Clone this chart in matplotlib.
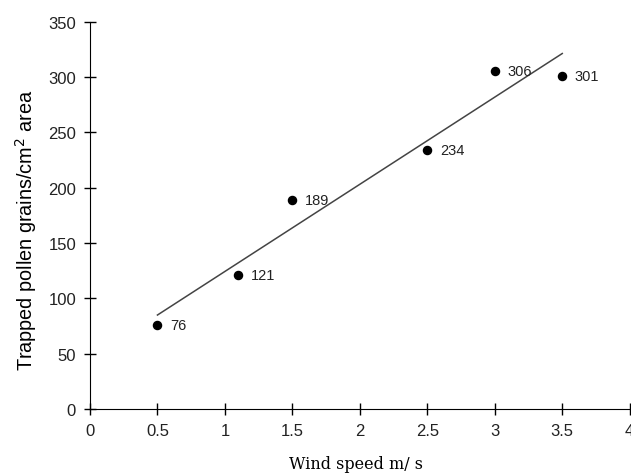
import numpy as np
import matplotlib
matplotlib.use("Agg")
import matplotlib.pyplot as plt

wind_speed = [0.5, 1.1, 1.5, 2.5, 3.0, 3.5]
pollen = [76, 121, 189, 234, 306, 301]
x_ticks = [0, 0.5, 1, 1.5, 2, 2.5, 3, 3.5, 4]
x_tick_labels = ["0", "0.5", "1", "1.5", "2", "2.5", "3", "3.5", "4"]
y_ticks = [0, 50, 100, 150, 200, 250, 300, 350]

fig = plt.figure(figsize=(6.31, 4.77), dpi=100)
ax = fig.add_axes([0.1426, 0.1405, 0.8554, 0.8115])

slope, intercept = np.polyfit(wind_speed, pollen, 1)
xs = np.array([min(wind_speed), max(wind_speed)])
ax.plot(xs, slope * xs + intercept, color="#444444", lw=1.1)

ax.scatter(wind_speed, pollen, s=34, color="black", zorder=3)
for x, y in zip(wind_speed, pollen):
    ax.annotate(str(y), (x, y), xytext=(9, 0), textcoords="offset points",
                va="center", ha="left", fontsize=10.5, family="Liberation Sans",
                color="#222222")

ax.set_xlim(0, 4)
ax.set_ylim(0, 350)
ax.set_xticks(x_ticks)
ax.set_xticklabels(x_tick_labels)
ax.set_yticks(y_ticks)
for lab in ax.get_xticklabels() + ax.get_yticklabels():
    lab.set_family("Liberation Sans")
    lab.set_fontsize(12)
    lab.set_color("#222222")
ax.tick_params(direction="inout", length=8, width=1, pad=6)
ax.spines["top"].set_visible(False)
ax.spines["right"].set_visible(False)

ax.set_xlabel("Wind speed m/ s", family="DejaVu Serif", fontsize=11.5, va="baseline")
ax.xaxis.set_label_coords(0.564, 0.016, transform=fig.transFigure)
ax.set_ylabel("Trapped pollen grains/cm$^2$ area", family="Liberation Sans", fontsize=14.3,
              va="center")
ax.yaxis.set_label_coords(0.041, 0.516, transform=fig.transFigure)

fig.savefig("out.png", dpi=100)
